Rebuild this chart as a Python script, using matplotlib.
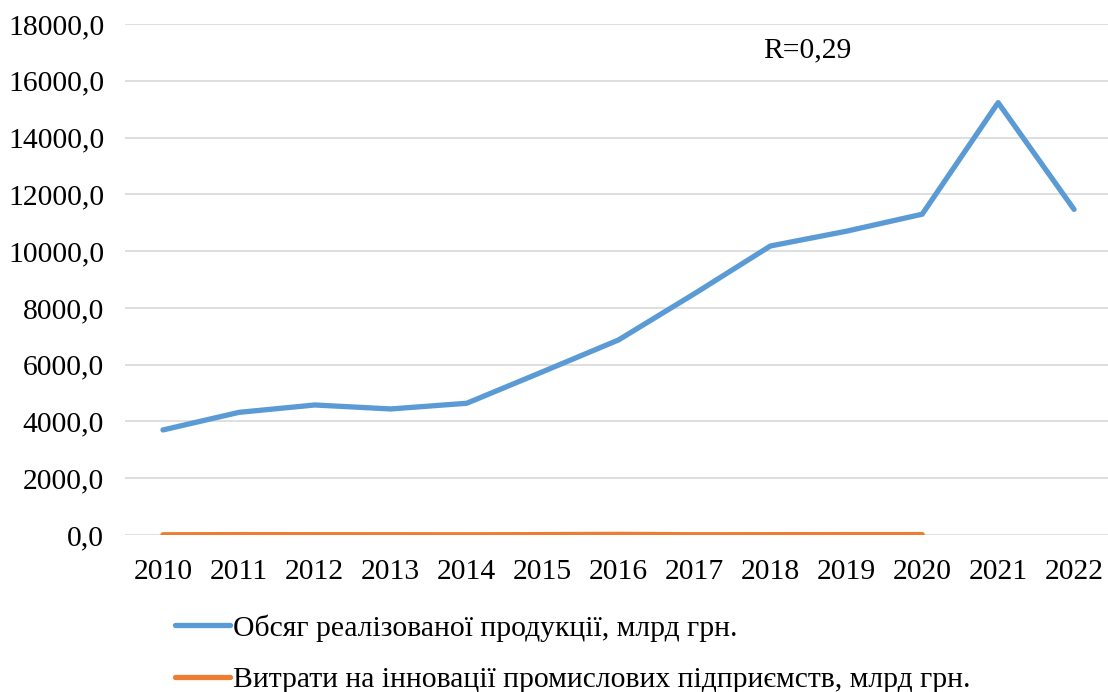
import matplotlib
matplotlib.use("Agg")
import matplotlib.pyplot as plt

years = ["2010", "2011", "2012", "2013", "2014", "2015", "2016", "2017", "2018", "2019", "2020", "2021", "2022"]
sales = [3700, 4320, 4580, 4440, 4640, 5750, 6870, 8500, 10180, 10700, 11300, 15230, 11470]
innov_years = years[:11]
innov = [8.0, 14.3, 11.5, 9.6, 7.7, 13.8, 23.2, 9.1, 12.2, 14.2, 14.4]
yticks = [0, 2000, 4000, 6000, 8000, 10000, 12000, 14000, 16000, 18000]
label_sales = "Обсяг реалізованої продукції, млрд грн."
label_innov = "Витрати на інновації промислових підприємств, млрд грн."

plt.rcParams['font.family'] = ['Liberation Serif', 'DejaVu Serif']
FS = 21.3

fig = plt.figure(figsize=(11.08, 6.92), dpi=100)
ax = fig.add_axes([125/1108, 1-535/692, (1112-125)/1108, (535-24)/692])

x = list(range(len(years)))
l1, = ax.plot(x, sales, color="#5B9BD5", lw=3.8, solid_capstyle="round", solid_joinstyle="round", label=label_sales, zorder=3)
l2, = ax.plot(list(range(len(innov_years))), innov, color="#ED7D31", lw=3.8, solid_capstyle="round", label=label_innov, zorder=3)

ax.set_xlim(-0.5, len(years) - 0.5)
ax.set_ylim(0, 18000)
ax.set_yticks(yticks)
ax.set_yticklabels([f"{v:.1f}".replace(".", ",") for v in yticks], fontsize=FS)
ax.set_xticks(x)
ax.set_xticklabels(years, fontsize=FS)
ax.tick_params(length=0)
ax.tick_params(axis='y', pad=15)
ax.tick_params(axis='x', pad=17)
ax.grid(axis='y', color="#D9D9D9", lw=1.2)
ax.set_axisbelow(True)
for s in ax.spines.values():
    s.set_visible(False)

ax.text(807/1108, 1-50/692, "R=0,29", transform=fig.transFigure, fontsize=FS, ha="center", va="center")

fig.legend(handles=[l1, l2], loc="upper left", bbox_to_anchor=(175/1108, 1-614/692),
           frameon=False, fontsize=FS, handlelength=1.86, handletextpad=0.1, labelspacing=0.84,
           borderaxespad=0, borderpad=0)

fig.savefig("out.png", dpi=100)
